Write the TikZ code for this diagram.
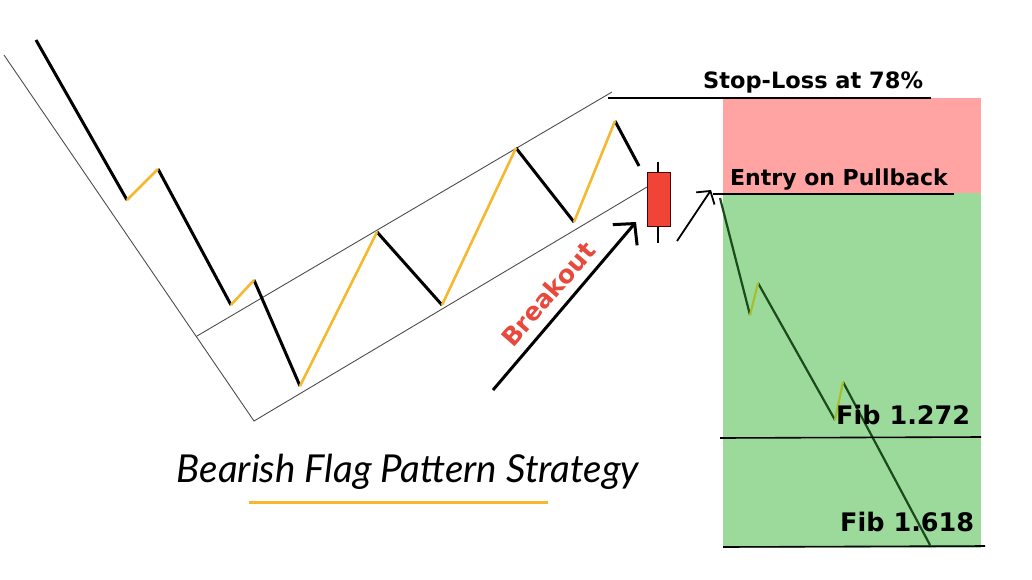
\documentclass[tikz,border=0pt]{standalone}
\usepackage{fontspec}
\setmainfont{DejaVu Sans}
\newfontfamily\titlefont{Lato}
\usetikzlibrary{arrows.meta}
\definecolor{flagyellow}{HTML}{F5B82E}
\definecolor{changray}{HTML}{4D4D4D}
\definecolor{slred}{HTML}{FFA3A3}
\definecolor{tpgreen}{HTML}{9CDA9C}
\definecolor{candlered}{HTML}{F04437}
\definecolor{darkgreen}{HTML}{1B4A1B}
\definecolor{olivegreen}{HTML}{A9BE2B}
\definecolor{breakred}{HTML}{E8493D}
\begin{document}
\begin{tikzpicture}[x=1pt,y=-1pt,
    chan/.style={changray,line width=0.9pt},
    down/.style={black,line width=3pt},
    up/.style={flagyellow,line width=2.6pt},
    gdown/.style={darkgreen,line width=2.2pt},
    gup/.style={olivegreen,line width=2.2pt},
    level/.style={black,line width=1.6pt},
    lbl/.style={anchor=base west,inner sep=0pt,font=\bfseries\fontsize{22.5}{27}\selectfont}]
        \useasboundingbox (0,0) rectangle (1032,579);
        % target boxes
        \fill[slred] (723,98) rectangle (981,193);
        \fill[tpgreen] (723,193) rectangle (981,548);
        % flag channel
        \coordinate(ctop)at(4,55);\coordinate(cbot)at(254,421);\coordinate(cend)at(647,187);
        \coordinate(ul)at(197,336);\coordinate(ur)at(612,92);
        \draw[chan] (ctop)--(cbot)--(cend) (ul)--(ur);
        % price path
        \coordinate(p0)at(36,40);\coordinate(p1)at(127,200);\coordinate(p2)at(158,169);
        \coordinate(p3)at(231,305);\coordinate(p4)at(254,280);\coordinate(p5)at(300,386);
        \coordinate(p6)at(377,232);\coordinate(p7)at(442,305);\coordinate(p8)at(516,148);
        \coordinate(p9)at(574,222);\coordinate(p10)at(615,121);\coordinate(p11)at(639,166);
        \draw[down] (p0)--(p1) (p2)--(p3) (p4)--(p5) (p6)--(p7) (p8)--(p9) (p10)--(p11);
        \draw[up] (p1)--(p2) (p3)--(p4) (p5)--(p6) (p7)--(p8) (p9)--(p10);
        % breakout candle
        \coordinate(wt)at(658,162);\coordinate(wb)at(658,243);
        \draw[black,line width=2pt] (wt)--(wb);
        \node[draw=black!70!red,fill=candlered,line width=1pt,minimum width=23pt,minimum height=54pt,inner sep=0pt] (candle) at (658.5,199) {};
        % breakout arrow
        \coordinate(ba)at(493,390);\coordinate(bb)at(636,222);
        \draw[black,line width=3pt,-{Straight Barb[length=15pt,width=32pt]}] (ba)--(bb);
        \node[text=breakred,font=\bfseries\fontsize{25}{30}\selectfont,rotate=49,inner sep=0pt] (brk) at (548,294) {Breakout};
        % stop loss and entry
        \coordinate(sl1)at(608,98);\coordinate(sl2)at(931,98);
        \draw[level] (sl1)--(sl2);
        \node[lbl] (sltxt) at (703,88) {Stop-Loss at 78\%};
        \coordinate(en1)at(713,194);\coordinate(en2)at(954,194);
        \draw[level] (en1)--(en2);
        \node[lbl,font=\bfseries\fontsize{22}{27}\selectfont] (entxt) at (730,185) {Entry on Pullback};
        \coordinate(ea)at(677,241);\coordinate(eb)at(711,190);
        \draw[black,line width=1.8pt,-{Straight Barb[length=9pt,width=22pt]}] (ea)--(eb);
        % move down to targets
        \coordinate(g0)at(720,198);\coordinate(g1)at(750,315);\coordinate(g2)at(758,283);
        \coordinate(g3)at(835,420);\coordinate(g4)at(843,382);\coordinate(g5)at(930,545);
        \draw[gdown] (g0)--(g1) (g2)--(g3) (g4)--(g5);
        \draw[gup] (g1)--(g2) (g3)--(g4);
        \coordinate(f1a)at(720,438);\coordinate(f1b)at(981,437);
        \coordinate(f2a)at(723,547);\coordinate(f2b)at(985,546);
        \draw[level] (f1a)--(f1b) (f2a)--(f2b);
        \node[lbl,font=\bfseries\fontsize{25.5}{30}\selectfont] (fib1) at (836,424) {Fib 1.272};
        \node[lbl,font=\bfseries\fontsize{25.5}{30}\selectfont] (fib2) at (840,531) {Fib 1.618};
        % title
        \node[anchor=base,inner sep=0pt,font=\titlefont\itshape\fontsize{38.5}{44}\selectfont] (title) at (408,482) {Bearish Flag Pattern Strategy};
        \coordinate(t1)at(249,502);\coordinate(t2)at(548,502);
        \draw[flagyellow,line width=3pt] (t1)--(t2);
\end{tikzpicture}
\end{document}
